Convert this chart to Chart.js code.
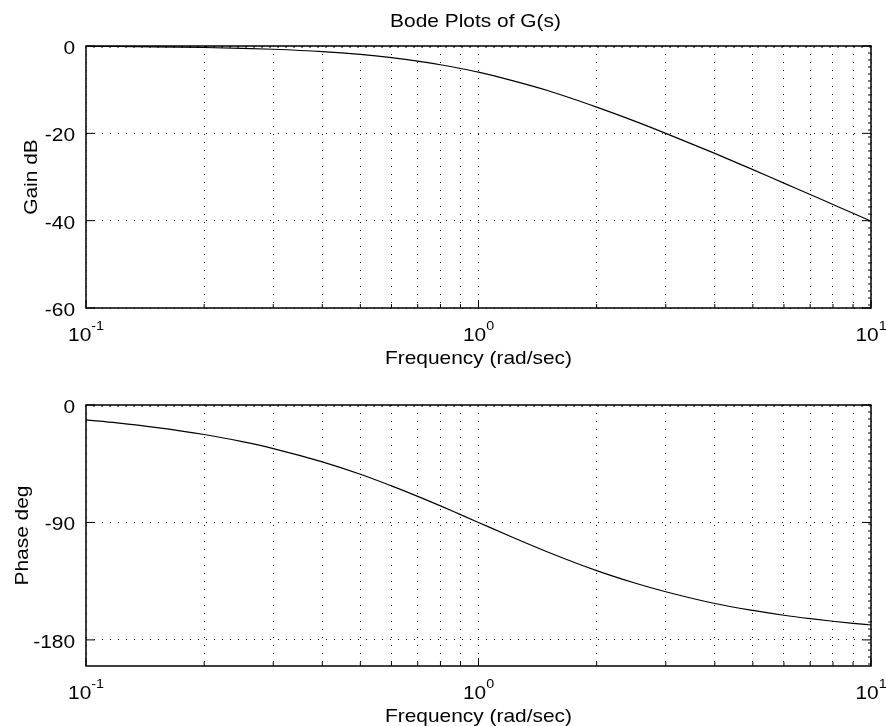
<!DOCTYPE html>
<html>
<head>
<meta charset="utf-8">
<script src="https://cdn.jsdelivr.net/npm/chart.js@4"></script>
<style>
  body { margin: 0; background: #fff; }
  #wrap { position: relative; width: 886px; height: 726px; }
  #wrap canvas { position: absolute; left: 0; }
</style>
</head>
<body>
<div id="wrap">
  <canvas id="gain" width="886" height="378" style="top:0"></canvas>
  <canvas id="phase" width="886" height="363" style="top:363px"></canvas>
</div>
<script>
// values
const freq     = [0.1, 0.12, 0.15, 0.2, 0.25, 0.3, 0.4, 0.5, 0.6, 0.7, 0.8, 0.9, 1, 1.2, 1.5, 2, 2.5, 3, 4, 5, 6, 7, 8, 9, 10];
const gainDb   = [-0.09, -0.12, -0.19, -0.34, -0.53, -0.75, -1.29, -1.94, -2.67, -3.45, -4.3, -5.15, -6.0, -7.75, -10.2, -14.0, -17.2, -20.0, -24.6, -28.3, -31.4, -34.0, -36.3, -38.3, -40.1];
const phaseDeg = [-11.4, -13.7, -17.1, -22.6, -28.1, -33.4, -43.6, -53.1, -62.0, -70.0, -77.3, -84.0, -90.0, -100.4, -112.6, -126.9, -136.4, -143.1, -152.1, -157.4, -161.1, -163.7, -165.7, -167.3, -168.6];

const gridFreqs  = [0.1, 0.2, 0.3, 0.4, 0.5, 0.6, 0.7, 0.8, 0.9, 1, 2, 3, 4, 5, 6, 7, 8, 9, 10];
const decades    = [0.1, 1, 10];
const decadeExps = ['-1', '0', '1'];
const gainTicks  = [0, -20, -40, -60];
const phaseTicks = [0, -90, -180];

const FONT = '"Liberation Sans", Arial, sans-serif';
const SX = 1.1; // reference text is a bit wide

function txt(ctx, s, x, y, size, align, rot) {
  ctx.save();
  ctx.translate(x, y);
  if (rot) ctx.rotate(rot);
  ctx.scale(SX, 1);
  ctx.font = size + 'px ' + FONT;
  ctx.textAlign = align;
  ctx.textBaseline = 'alphabetic';
  ctx.fillStyle = '#000';
  ctx.fillText(s, 0, 0);
  ctx.restore();
}

function textW(ctx, s, size) {
  ctx.font = size + 'px ' + FONT;
  return ctx.measureText(s).width * SX;
}

// box, inner ticks and all text
const bodeDecor = {
  id: 'bodeDecor',
  afterDraw(chart, args, o) {
    const ctx = chart.ctx;
    const a = chart.chartArea;
    const xs = chart.scales.x, ys = chart.scales.y;
    ctx.save();
    ctx.strokeStyle = '#000';
    ctx.lineWidth = 1;
    ctx.beginPath();
    // x ticks on bottom edge
    gridFreqs.forEach(f => {
      const px = xs.getPixelForValue(f);
      const len = decades.includes(f) ? 8 : 4;
      ctx.moveTo(px, a.bottom); ctx.lineTo(px, a.bottom - len);
    });
    // dense ticks along top and right edges
    for (let px = a.left; px <= a.right; px += 8) {
      ctx.moveTo(px, a.top); ctx.lineTo(px, a.top + 2);
    }
    for (let py = a.top; py <= a.bottom; py += 7) {
      ctx.moveTo(a.right, py); ctx.lineTo(a.right - 3, py);
    }
    // y ticks on left and right
    o.yTicks.forEach(v => {
      const py = ys.getPixelForValue(v);
      ctx.moveTo(a.left, py); ctx.lineTo(a.left + 9, py);
      ctx.moveTo(a.right, py); ctx.lineTo(a.right - 9, py);
    });
    ctx.stroke();
    ctx.lineWidth = 1.5;
    ctx.strokeRect(a.left, a.top, a.right - a.left, a.bottom - a.top);
    ctx.restore();

    // y tick labels
    o.yTicks.forEach(v => {
      txt(ctx, String(v), a.left - 11, ys.getPixelForValue(v) + 8, 19, 'right');
    });
    // x decade labels with superscripts
    decades.forEach((f, i) => {
      const px = xs.getPixelForValue(f);
      const w1 = textW(ctx, '10', 19), w2 = textW(ctx, decadeExps[i], 13);
      const x0 = px - (w1 + w2) / 2;
      txt(ctx, '10', x0, a.bottom + 33, 19, 'left');
      txt(ctx, decadeExps[i], x0 + w1, a.bottom + 22, 13, 'left');
    });
    const cx = (a.left + a.right) / 2;
    txt(ctx, 'Frequency (rad/sec)', cx, a.bottom + 56, 19, 'center');
    txt(ctx, o.yTitle, o.yTitleX, (a.top + a.bottom) / 2, 19, 'center', -Math.PI / 2);
    if (o.title) txt(ctx, o.title, cx - 3, 27, 19, 'center');
  }
};

function makeBode(id, values, yMin, yTicks, pad, decor) {
  return new Chart(document.getElementById(id), {
    type: 'line',
    data: {
      datasets: [{
        data: freq.map((f, i) => ({ x: f, y: values[i] })),
        borderColor: '#000',
        borderWidth: 1.2,
        pointRadius: 0,
        cubicInterpolationMode: 'monotone',
        fill: false
      }]
    },
    options: {
      responsive: false,
      animation: false,
      layout: { padding: pad },
      plugins: {
        legend: { display: false },
        tooltip: { enabled: false },
        bodeDecor: Object.assign({ yTicks: yTicks }, decor)
      },
      scales: {
        x: {
          type: 'logarithmic',
          min: 0.1,
          max: 10,
          afterBuildTicks: s => { s.ticks = gridFreqs.map(v => ({ value: v })); },
          ticks: { display: false },
          grid: { color: '#000', lineWidth: 1, drawTicks: false },
          border: { display: false, dash: [1, 7] }
        },
        y: {
          type: 'linear',
          min: yMin,
          max: 0,
          afterBuildTicks: s => { s.ticks = yTicks.map(v => ({ value: v })); },
          ticks: { display: false },
          grid: { color: '#000', lineWidth: 1, drawTicks: false },
          border: { display: false, dash: [1, 7] }
        }
      }
    },
    plugins: [bodeDecor]
  });
}

makeBode('gain', gainDb, -60, gainTicks,
  { left: 86, top: 46, right: 15, bottom: 70 },
  { yTitle: 'Gain dB', yTitleX: 37, title: 'Bode Plots of G(s)' });

makeBode('phase', phaseDeg, -200, phaseTicks,
  { left: 86, top: 42, right: 15, bottom: 60 },
  { yTitle: 'Phase deg', yTitleX: 28 });
</script>
</body>
</html>
